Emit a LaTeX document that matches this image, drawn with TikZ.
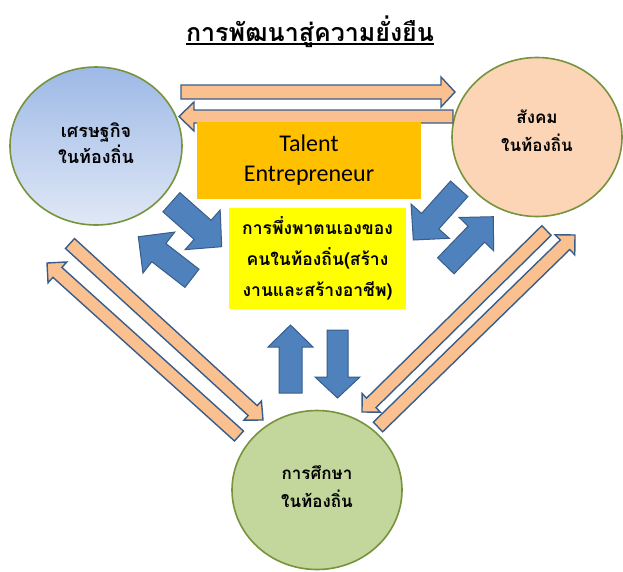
\documentclass[tikz,border=0pt]{standalone}
\usepackage{fontspec}
\setmainfont{Carlito}
\newfontfamily\thaifont[Script=Thai]{Loma}
\usetikzlibrary{calc,shapes.geometric}

\definecolor{ringgreen}{RGB}{119,147,60}
\definecolor{econtop}{RGB}{157,185,230}
\definecolor{econbot}{RGB}{224,232,246}
\definecolor{socfill}{RGB}{251,213,181}
\definecolor{edufill}{RGB}{195,214,155}
\definecolor{talentfill}{RGB}{255,192,0}
\definecolor{selffill}{RGB}{255,255,0}
\definecolor{linkfill}{RGB}{250,192,144}
\definecolor{linkedge}{RGB}{56,93,138}
\definecolor{pushfill}{RGB}{79,129,189}

\newcommand{\flowarrow}[6]{%
	\coordinate (fa-base) at ($(#3)!#6!(#2)$);
	\draw[#1] ($(#2)!#4!90:(#3)$) -- ($(fa-base)!#4!90:(#3)$) -- ($(fa-base)!#5!90:(#3)$) -- (#3) -- ($(fa-base)!#5!-90:(#3)$) -- ($(fa-base)!#4!-90:(#3)$) -- ($(#2)!#4!-90:(#3)$) -- cycle;
}

\begin{document}
\begin{tikzpicture}[x=1pt,y=-1pt,
		sphere/.style={ellipse, draw=ringgreen, line width=1.6pt, minimum width=170pt, minimum height=159pt},
		spheretext/.style={align=center, font=\thaifont\bfseries\fontsize{17}{28}\selectfont},
		link/.style={fill=linkfill, draw=linkedge, line width=1.4pt, line join=miter},
		push/.style={fill=pushfill, draw=linkedge, line width=1pt, line join=miter}]
				\useasboundingbox (0,0) rectangle (623,571);
				
				\node[anchor=base, inner sep=0pt, font=\thaifont\bfseries\fontsize{25}{28}\selectfont] (title) at (310,41.5) {การพัฒนาสู่ความยั่งยืน};
				\draw[line width=1.5pt] ([yshift=-2.5pt]title.base west) -- ([yshift=-2.5pt]title.base east);
				
				\node[sphere, top color=econtop, bottom color=econbot, minimum width=172pt, minimum height=158pt,
					label={[spheretext, font=\thaifont\bfseries\fontsize{18}{26}\selectfont, yshift=3pt]center:{เศรษฐกิจ\\ในท้องถิ่น}}] (econ) at (96,146) {};
				\node[sphere, fill=socfill, label={[spheretext, yshift=6pt]center:{สังคม\\ในท้องถิ่น}}] (soc) at (537,137) {};
				\node[sphere, fill=edufill, label={[spheretext, yshift=3pt]center:{การศึกษา\\ในท้องถิ่น}}] (edu) at (317,490) {};
				
				\coordinate (es1) at (181,92);
				\coordinate (es2) at (455,92);
				\coordinate (se1) at (453,116.5);
				\coordinate (se2) at (179,116.5);
				\coordinate (eu1) at (70,243.5);
				\coordinate (eu2) at (263,420);
				\coordinate (ue1) at (239,436);
				\coordinate (ue2) at (47,263);
				\coordinate (su1) at (546.5,230.5);
				\coordinate (su2) at (362,412);
				\coordinate (us1) at (378,427);
				\coordinate (us2) at (575,235);
				
				\flowarrow{link}{es1}{es2}{7pt}{15pt}{14pt}
				\flowarrow{link}{se1}{se2}{6.5pt}{14.5pt}{15pt}
				\flowarrow{link}{eu1}{eu2}{6.7pt}{13pt}{14pt}
				\flowarrow{link}{ue1}{ue2}{6.7pt}{14pt}{14pt}
				\flowarrow{link}{su1}{su2}{6.7pt}{13pt}{13pt}
				\flowarrow{link}{us1}{us2}{6.7pt}{14pt}{14pt}
				
				\node[fill=talentfill, minimum width=224pt, minimum height=77pt, align=center, font=\fontsize{24}{30}\selectfont] (talent) at (309,160.5) {Talent\\Entrepreneur};
				\node[fill=selffill, minimum width=177pt, minimum height=101pt, align=center, font=\thaifont\bfseries\fontsize{17.5}{31}\selectfont] (self) at (317.5,258.5) {การพึ่งพาตนเองของ\\คนในท้องถิ่น(สร้าง\\งานและสร้างอาชีพ)};
				
				\coordinate (ei1) at (171.4,202.2);
				\coordinate (ei2) at (221.7,246.7);
				\coordinate (ie1) at (192,278.3);
				\coordinate (ie2) at (138.3,236.7);
				\coordinate (si1) at (459.2,188.8);
				\coordinate (si2) at (413.3,240);
				\coordinate (is1) at (445.8,265.8);
				\coordinate (is2) at (493.3,216.7);
				\coordinate (iu1) at (337.5,330);
				\coordinate (iu2) at (337.5,398);
				\coordinate (ui1) at (290.5,393);
				\coordinate (ui2) at (290.5,325);
				
				\flowarrow{push}{ei1}{ei2}{12.8pt}{26.5pt}{25.5pt}
				\flowarrow{push}{ie1}{ie2}{11.5pt}{26pt}{26pt}
				\flowarrow{push}{si1}{si2}{11.6pt}{25.7pt}{25.3pt}
				\flowarrow{push}{is1}{is2}{11.5pt}{24pt}{24.3pt}
				\flowarrow{push}{iu1}{iu2}{10.5pt}{22.5pt}{21pt}
				\flowarrow{push}{ui1}{ui2}{11.5pt}{22.5pt}{22pt}
			\end{tikzpicture}
\end{document}
